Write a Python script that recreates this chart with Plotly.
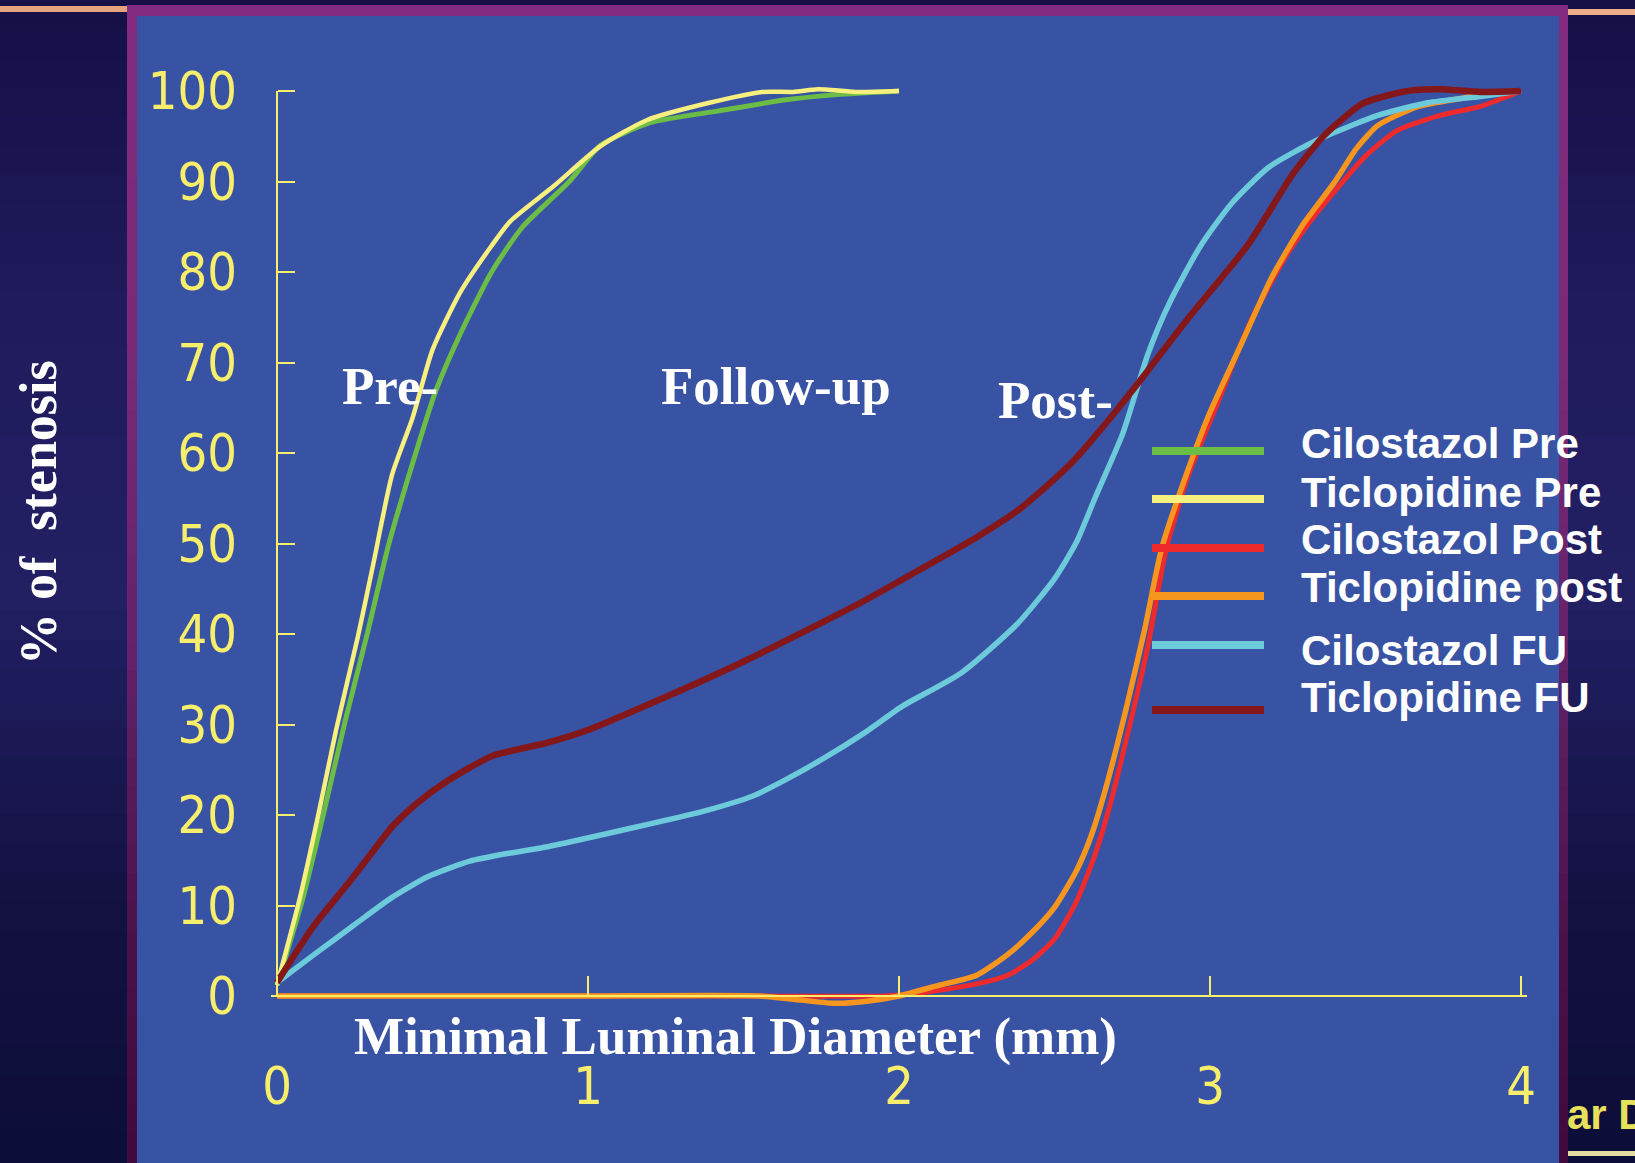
import plotly.graph_objects as go

# ---------------- data ----------------
x_cil_pre = [0, 0.084, 0.15, 0.22, 0.29, 0.36, 0.44, 0.51, 0.59, 0.69, 0.79, 0.94, 1.04, 1.2, 1.42, 1.63, 1.8, 2.0]
y_cil_pre = [1.2, 10.9, 20.2, 30.5, 40, 50, 59.3, 66.8, 73.2, 80, 85, 90, 94, 96.5, 97.8, 99, 99.6, 100]

x_tic_pre = [0, 0.074, 0.134, 0.19, 0.26, 0.31, 0.37, 0.436, 0.50, 0.59, 0.69, 0.75, 0.89, 1.04, 1.19, 1.39, 1.56, 1.66, 1.74, 1.86, 2.0]
y_tic_pre = [1.2, 10.9, 20.2, 29.4, 39.7, 47.8, 57.6, 63.9, 71.4, 77.8, 82.9, 85.6, 89.5, 93.9, 96.8, 98.7, 99.9, 99.9, 100.2, 99.9, 100]

x_cil_post = [0, 0.5, 1.0, 1.5, 1.95, 2.06, 2.23, 2.35, 2.43, 2.50, 2.57, 2.63, 2.68, 2.73, 2.80, 2.86, 2.93, 3.03, 3.13, 3.24, 3.32, 3.415, 3.50, 3.60, 3.74, 3.87, 4.0]
y_cil_post = [0, 0, 0, 0, 0, 0.3, 1.2, 2.3, 4.0, 6.3, 10.4, 15.6, 21.3, 28.2, 38.6, 49.5, 57.5, 66.0, 74.5, 81.5, 85.5, 89.5, 92.8, 95.6, 97.3, 98.3, 100]

x_tic_post = [0, 0.5, 1.0, 1.55, 1.66, 1.79, 1.89, 2.0, 2.13, 2.25, 2.35, 2.43, 2.50, 2.57, 2.62, 2.67, 2.73, 2.79, 2.845, 2.93, 3.0, 3.10, 3.20, 3.30, 3.40, 3.47, 3.54, 3.67, 3.81, 3.91, 4.0]
y_tic_post = [0, 0, 0, 0, -0.35, -0.8, -0.6, 0, 1.2, 2.3, 4.6, 7.1, 9.8, 13.8, 17.9, 23.6, 31.7, 40.5, 49.5, 58.2, 64.5, 72.0, 79.5, 85.3, 89.9, 93.6, 96.2, 98.3, 99.2, 99.8, 100]

x_cil_fu = [0, 0.12, 0.25, 0.37, 0.486, 0.62, 0.75, 0.87, 1.12, 1.37, 1.53, 1.63, 1.76, 1.89, 2.01, 2.20, 2.38, 2.50, 2.57, 2.63, 2.72, 2.80, 2.87, 2.97, 3.07, 3.19, 3.34, 3.54, 3.70, 3.87, 4.0]
y_cil_fu = [1.5, 4.6, 7.9, 10.9, 13.2, 14.9, 15.8, 16.5, 18.4, 20.4, 22.1, 23.8, 26.3, 29.1, 32.0, 35.7, 41.1, 46.1, 50.1, 55.0, 62.2, 70.9, 76.6, 82.9, 87.6, 91.6, 94.5, 97.3, 98.7, 99.4, 100]

x_tic_fu = [0, 0.117, 0.235, 0.30, 0.37, 0.45, 0.55, 0.69, 0.87, 1.0, 1.22, 1.46, 1.76, 1.89, 2.03, 2.25, 2.38, 2.46, 2.56, 2.68, 2.80, 2.93, 3.12, 3.27, 3.37, 3.49, 3.57, 3.66, 3.74, 3.87, 4.0]
y_tic_fu = [1.5, 7.7, 12.7, 15.6, 18.7, 21.3, 23.8, 26.5, 28.0, 29.4, 32.6, 36.3, 41.4, 43.7, 46.4, 50.7, 53.6, 55.9, 59.1, 63.9, 69.1, 74.9, 82.9, 91.0, 95.2, 98.6, 99.5, 100.1, 100.2, 99.9, 100]

series_names = ["Cilostazol Pre", "Ticlopidine Pre", "Cilostazol Post", "Ticlopidine post", "Cilostazol FU", "Ticlopidine FU"]
series_x = [x_cil_pre, x_tic_pre, x_cil_post, x_tic_post, x_cil_fu, x_tic_fu]
series_y = [y_cil_pre, y_tic_pre, y_cil_post, y_tic_post, y_cil_fu, y_tic_fu]
series_colors = ["#6cbd45", "#f8f07e", "#ee2a2c", "#f7961f", "#6ccadb", "#84171a"]
series_widths = [5, 4.5, 5, 5.5, 5.5, 6.5]
draw_order = [2, 3, 0, 1, 4, 5]

x_ticks = [0, 1, 2, 3, 4]
x_ticktext = ["0", "1", "2", "3", "4"]
y_ticks = [0, 10, 20, 30, 40, 50, 60, 70, 80, 90, 100]
y_ticktext = [str(v) for v in y_ticks]

phase_labels = ["Pre-", "Follow-up", "Post-"]

x_title = "Minimal Luminal Diameter (mm)"
y_title = "%\u00a0of\u00a0\u00a0stenosis"

# ---------------- layout geometry (pixels) ----------------
W, H = 1635, 1163
X0PX, X4PX = 277, 1521          # pixel of x=0 and x=4
Y0PX, Y100PX = 996, 91          # pixel of y=0 and y=100
L, RPX, T, BPX = 271, 1527, 82, 1012

xppu = (X4PX - X0PX) / (x_ticks[-1] - x_ticks[0])
yppu = (Y0PX - Y100PX) / (y_ticks[-1] - y_ticks[0])
xr = [-(X0PX - L) / xppu, x_ticks[-1] + (RPX - X4PX) / xppu]
yr = [-(BPX - Y0PX) / yppu, y_ticks[-1] + (Y100PX - T) / yppu]


def px(p):
    return (p - L) / (RPX - L)


def py(p):
    return (BPX - p) / (BPX - T)


def lerp_color(stops, t):
    for (p0, c0), (p1, c1) in zip(stops[:-1], stops[1:]):
        if p0 <= t <= p1:
            f = (t - p0) / (p1 - p0) if p1 > p0 else 0
            a = [int(c0[i:i + 2], 16) for i in (1, 3, 5)]
            b = [int(c1[i:i + 2], 16) for i in (1, 3, 5)]
            return "#%02x%02x%02x" % tuple(round(a[k] + (b[k] - a[k]) * f) for k in range(3))
    return stops[-1][1]


YELLOW = "#f7ee6c"
BLUE = "#3953a4"

shapes = []
navy_stops = [(0, "#150f45"), (300, "#1f1b5c"), (600, "#221f63"), (900, "#131142"), (1163, "#0d0d38")]
N = 40
for i in range(N):
    y_a = H * i / N
    y_b = H * (i + 1) / N + 1
    shapes.append(dict(type="rect", xref="paper", yref="paper", layer="below",
                       x0=px(-5), x1=px(W + 5), y0=py(y_a), y1=py(y_b),
                       fillcolor=lerp_color(navy_stops, (y_a + y_b) / 2), line_width=0))
purple_stops = [(0, "#822b80"), (350, "#7a2a78"), (650, "#64226a"), (950, "#4a1148"), (1163, "#400a3c")]
for i in range(N):
    y_a = 5 + (H - 5) * i / N
    y_b = 5 + (H - 5) * (i + 1) / N + 1
    shapes.append(dict(type="rect", xref="paper", yref="paper", layer="below",
                       x0=px(127), x1=px(1568), y0=py(y_a), y1=py(min(y_b, H + 5)),
                       fillcolor=lerp_color(purple_stops, (y_a + y_b) / 2), line_width=0))
shapes.append(dict(type="rect", xref="paper", yref="paper", layer="below",
                   x0=px(137), x1=px(1559), y0=py(16), y1=py(H + 5),
                   fillcolor=BLUE, line_width=0))
shapes.append(dict(type="rect", xref="paper", yref="paper", layer="below",
                   x0=px(-5), x1=px(127), y0=py(6), y1=py(12),
                   fillcolor="#e6a47e", line_width=0))
shapes.append(dict(type="rect", xref="paper", yref="paper", layer="below",
                   x0=px(1568), x1=px(W + 5), y0=py(9), y1=py(15),
                   fillcolor="#eeae8a", line_width=0))
shapes.append(dict(type="rect", xref="paper", yref="paper", layer="below",
                   x0=px(1568), x1=px(W + 5), y0=py(1151), y1=py(1156),
                   fillcolor="#e4dea2", line_width=0))
shapes.append(dict(type="line", xref="x", yref="y", x0=x_ticks[0], x1=x_ticks[0],
                   y0=y_ticks[0], y1=y_ticks[-1], line=dict(color=YELLOW, width=2), layer="below"))

legend_line_y = [451, 499, 548, 596, 645, 710]
legend_text_y = [443, 492, 539, 587, 650, 697]
for i, name in enumerate(series_names):
    shapes.append(dict(type="line", xref="paper", yref="paper",
                       x0=px(1152), x1=px(1264), y0=py(legend_line_y[i]), y1=py(legend_line_y[i]),
                       line=dict(color=series_colors[i], width=8)))

fig = go.Figure()
for i in draw_order:
    fig.add_trace(go.Scatter(x=series_x[i], y=series_y[i], mode="lines", name=series_names[i],
                             line=dict(color=series_colors[i], width=series_widths[i],
                                       shape="spline", smoothing=0.6),
                             showlegend=False, hoverinfo="skip"))

annotations = []
serif = "Liberation Serif, Times New Roman, serif"
sans = "Liberation Sans, Arial, sans-serif"
for i, name in enumerate(series_names):
    annotations.append(dict(text="<b>%s</b>" % name, xref="paper", yref="paper",
                            x=px(1299), y=py(legend_text_y[i]), xanchor="left", yanchor="middle",
                            showarrow=False, font=dict(family=sans, size=42, color="white")))
phase_pos = [(340, 386), (659, 386), (996, 400)]
for lab, (lx, ly) in zip(phase_labels, phase_pos):
    annotations.append(dict(text="<b>%s</b>" % lab, xref="paper", yref="paper",
                            x=px(lx), y=py(ly), xanchor="left", yanchor="middle",
                            showarrow=False, font=dict(family=serif, size=53, color="white")))
annotations.append(dict(text="<b>%s</b>" % x_title, xref="paper", yref="paper",
                        x=px(735), y=py(1036), xanchor="center", yanchor="middle",
                        showarrow=False, font=dict(family=serif, size=53, color="white")))
annotations.append(dict(text="<b>%s</b>" % y_title, xref="paper", yref="paper",
                        x=px(38), y=py(513), xanchor="center", yanchor="middle", textangle=-90,
                        showarrow=False, font=dict(family=serif, size=52, color="white")))
annotations.append(dict(text="<b>ar D</b>", xref="paper", yref="paper",
                        x=px(1565), y=py(1114), xanchor="left", yanchor="middle",
                        showarrow=False, font=dict(family=sans, size=42, color="#e6e05a")))

tickfont = dict(family="Liberation Sans Narrow, DejaVu Sans Condensed, Arial Narrow, sans-serif",
                size=52, color=YELLOW)

fig.update_layout(
    width=W, height=H, autosize=False,
    margin=dict(l=L, r=W - RPX, t=T, b=H - BPX, pad=0),
    paper_bgcolor="#1b1650",
    plot_bgcolor="rgba(0,0,0,0)",
    showlegend=False,
    shapes=shapes,
    annotations=annotations,
    xaxis=dict(range=xr, anchor="free", position=(BPX - Y0PX) / (BPX - T),
               showline=True, linecolor=YELLOW, linewidth=2,
               ticks="inside", ticklen=19, tickwidth=2, tickcolor=YELLOW,
               tickvals=x_ticks, ticktext=x_ticktext, tickfont=tickfont,
               ticklabelstandoff=45, showgrid=False, zeroline=False),
    yaxis=dict(range=yr, anchor="free", position=(X0PX - L) / (RPX - L),
               showline=False,
               ticks="inside", ticklen=17, tickwidth=2, tickcolor=YELLOW,
               tickvals=y_ticks, ticktext=y_ticktext, tickfont=tickfont,
               ticklabelstandoff=40, showgrid=False, zeroline=False),
)

fig.write_html("out.html", config={"displayModeBar": False},
               post_script="document.body.style.margin='0';document.body.style.overflow='hidden';")
